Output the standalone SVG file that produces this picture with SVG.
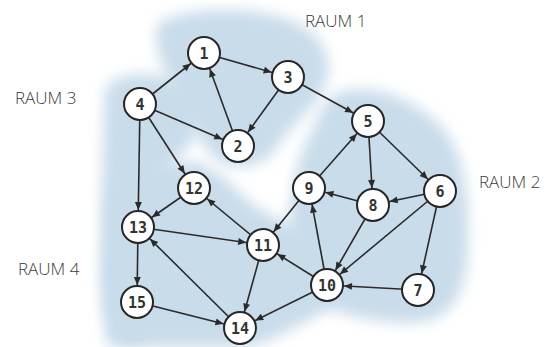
<svg xmlns="http://www.w3.org/2000/svg" width="556" height="347" viewBox="0 0 556 347">
  <style>
    .room { fill: #c9dcea; filter: url(#soft); }
    .room-label { font-family: "Open Sans", "Liberation Sans", sans-serif; font-weight: 300; font-size: 17px; fill: #3a3a3a; }
    .edge { stroke: #2a2a2a; stroke-width: 1.6; fill: none; marker-end: url(#arrow); }
    .node circle { fill: #ffffff; stroke: #262626; stroke-width: 2; }
    .node text { font-family: "DejaVu Sans Mono", "Liberation Mono", monospace; font-weight: bold; font-size: 15px; fill: #333333; text-anchor: middle; }
  </style>
  <defs>
    <filter id="soft" x="-20%" y="-20%" width="140%" height="140%">
      <feGaussianBlur stdDeviation="7"/>
    </filter>
    <!-- tip sits 17px before the line end so it touches the target circle -->
    <marker id="arrow" markerUnits="userSpaceOnUse" viewBox="-30 -6 32 12" markerWidth="32" markerHeight="12" refX="0" refY="0" orient="auto">
      <path d="M -25 -3.5 L -17 0 L -25 3.5 Z" fill="#2a2a2a"/>
    </marker>
  </defs>

  <rect width="556" height="347" fill="#ffffff"/>

  <!-- room areas -->
  <g id="rooms">
    <path class="room" d="M160,22 C185,8 250,5 290,20 C320,32 335,55 325,85 C315,110 290,125 275,150 C262,170 225,172 212,155 C195,135 180,110 170,85 C160,60 150,35 160,22 Z"/>
    <path class="room" d="M105,90 C110,72 160,68 185,85 C205,100 205,130 185,150 C170,165 160,180 160,200 L160,300 C160,330 140,347 120,347 L108,347 C100,300 100,200 105,90 Z"/>
    <path class="room" d="M108,200 C115,170 160,160 195,162 C225,170 240,200 270,215 C300,225 330,255 340,280 C345,305 310,320 280,335 C260,345 250,347 240,347 L130,347 C110,340 100,300 105,260 Z"/>
    <path class="room" d="M335,95 C360,80 410,95 440,125 C465,150 470,200 468,250 C466,290 455,318 420,322 C390,325 350,318 320,305 C295,290 285,250 290,215 C292,180 300,150 315,125 C320,110 325,100 335,95 Z"/>
  </g>

  <g id="room-labels">
    <text class="room-label" x="305" y="27">RAUM 1</text>
    <text class="room-label" x="479" y="188">RAUM 2</text>
    <text class="room-label" x="15" y="104">RAUM 3</text>
    <text class="room-label" x="18" y="275">RAUM 4</text>
  </g>

  <!-- connectors, drawn centre to centre -->
  <g id="connectors">
    <line class="edge" x1="140" y1="104" x2="204" y2="53"/>
    <line class="edge" x1="204" y1="53" x2="288" y2="77"/>
    <line class="edge" x1="238" y1="146" x2="204" y2="53"/>
    <line class="edge" x1="288" y1="77" x2="238" y2="146"/>
    <line class="edge" x1="140" y1="104" x2="238" y2="146"/>
    <line class="edge" x1="288" y1="77" x2="368" y2="121"/>
    <line class="edge" x1="140" y1="104" x2="194" y2="188"/>
    <line class="edge" x1="140" y1="104" x2="138" y2="227"/>
    <line class="edge" x1="368" y1="121" x2="373" y2="205"/>
    <line class="edge" x1="368" y1="121" x2="440" y2="191"/>
    <line class="edge" x1="309" y1="188" x2="368" y2="121"/>
    <line class="edge" x1="373" y1="205" x2="309" y2="188"/>
    <line class="edge" x1="440" y1="191" x2="373" y2="205"/>
    <line class="edge" x1="440" y1="191" x2="418" y2="290"/>
    <line class="edge" x1="440" y1="191" x2="327" y2="285"/>
    <line class="edge" x1="373" y1="205" x2="327" y2="285"/>
    <line class="edge" x1="327" y1="285" x2="309" y2="188"/>
    <line class="edge" x1="418" y1="290" x2="327" y2="285"/>
    <line class="edge" x1="309" y1="188" x2="263" y2="245"/>
    <line class="edge" x1="327" y1="285" x2="263" y2="245"/>
    <line class="edge" x1="327" y1="285" x2="240" y2="328"/>
    <line class="edge" x1="263" y1="245" x2="194" y2="188"/>
    <line class="edge" x1="263" y1="245" x2="240" y2="328"/>
    <line class="edge" x1="194" y1="188" x2="138" y2="227"/>
    <line class="edge" x1="138" y1="227" x2="263" y2="245"/>
    <line class="edge" x1="138" y1="227" x2="137" y2="302"/>
    <line class="edge" x1="240" y1="328" x2="138" y2="227"/>
    <line class="edge" x1="137" y1="302" x2="240" y2="328"/>
  </g>

  <g id="node-1" class="node"><circle cx="204" cy="53" r="16"/><text x="204" y="58.5">1</text></g>
  <g id="node-2" class="node"><circle cx="238" cy="146" r="16"/><text x="238" y="151.5">2</text></g>
  <g id="node-3" class="node"><circle cx="288" cy="77" r="16"/><text x="288" y="82.5">3</text></g>
  <g id="node-4" class="node"><circle cx="140" cy="104" r="16"/><text x="140" y="109.5">4</text></g>
  <g id="node-5" class="node"><circle cx="368" cy="121" r="16"/><text x="368" y="126.5">5</text></g>
  <g id="node-6" class="node"><circle cx="440" cy="191" r="16"/><text x="440" y="196.5">6</text></g>
  <g id="node-7" class="node"><circle cx="418" cy="290" r="16"/><text x="418" y="295.5">7</text></g>
  <g id="node-8" class="node"><circle cx="373" cy="205" r="16"/><text x="373" y="210.5">8</text></g>
  <g id="node-9" class="node"><circle cx="309" cy="188" r="16"/><text x="309" y="193.5">9</text></g>
  <g id="node-10" class="node"><circle cx="327" cy="285" r="16"/><text x="327" y="290.5">10</text></g>
  <g id="node-11" class="node"><circle cx="263" cy="245" r="16"/><text x="263" y="250.5">11</text></g>
  <g id="node-12" class="node"><circle cx="194" cy="188" r="16"/><text x="194" y="193.5">12</text></g>
  <g id="node-13" class="node"><circle cx="138" cy="227" r="16"/><text x="138" y="232.5">13</text></g>
  <g id="node-14" class="node"><circle cx="240" cy="328" r="16"/><text x="240" y="333.5">14</text></g>
  <g id="node-15" class="node"><circle cx="137" cy="302" r="16"/><text x="137" y="307.5">15</text></g>
</svg>
